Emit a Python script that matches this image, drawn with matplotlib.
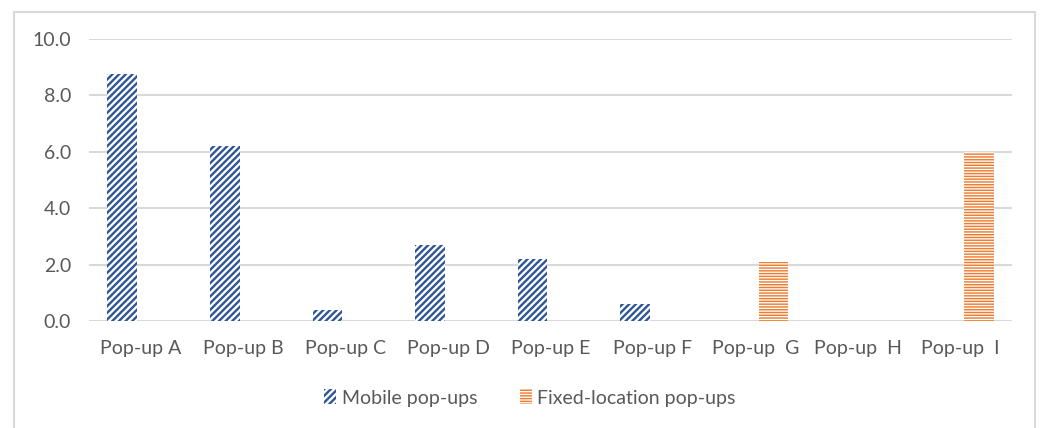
import matplotlib
matplotlib.use("Agg")
import matplotlib.pyplot as plt
import numpy as np
from matplotlib.patches import Rectangle, Patch

categories = ["Pop-up A", "Pop-up B", "Pop-up C", "Pop-up D", "Pop-up E",
              "Pop-up F", "Pop-up  G", "Pop-up  H", "Pop-up  I"]
mobile = [8.75, 6.2, 0.4, 2.7, 2.2, 0.6, 0, 0, 0]
fixed = [0, 0, 0, 0, 0, 0, 2.1, 0, 6.0]
series_names = ["Mobile pop-ups", "Fixed-location pop-ups"]
yticks = [0, 2, 4, 6, 8, 10]

plt.rcParams['font.family'] = ['Lato', 'DejaVu Sans']

W, H = 1044, 428
fig = plt.figure(figsize=(W / 100, H / 100), dpi=100)

# outer chart border
fig.patches.append(Rectangle((14 / W, -0.1), (1035 - 14) / W, 1 - 12 / H + 0.1,
                             transform=fig.transFigure, fill=False,
                             edgecolor="#D9D9D9", linewidth=1.5))

ax = fig.add_axes([89 / W, 1 - 321 / H, (1012 - 89) / W, (321 - 39) / H])
x = np.arange(len(categories))
bw = 0.29
off = 0.175
blue = "#2F5597"
orange = "#ED7D31"
hatch_m = "/////"
hatch_f = "------"
lw_m, lw_f = 1.7, 1.05

mb = ax.bar(x - off, mobile, bw, facecolor="white", edgecolor=blue, hatch=hatch_m,
            linewidth=0, zorder=3)
fb = ax.bar(x + off, fixed, bw, facecolor="white", edgecolor=orange, hatch=hatch_f,
            linewidth=0, zorder=3)
for p in mb:
    p._hatch_linewidth = lw_m
for p in fb:
    p._hatch_linewidth = lw_f

fs = 14
ax.set_xlim(-0.5, len(categories) - 0.5)
ax.set_ylim(0, 10)
ax.set_yticks(yticks)
ax.set_yticklabels([f"{v:.1f}" for v in yticks])
ax.set_xticks(x)
ax.set_xticklabels(categories)
ax.tick_params(axis="both", length=0, colors="#595959", labelsize=fs)
ax.tick_params(axis="y", pad=13)
ax.tick_params(axis="x", pad=14)
ax.grid(axis="y", color="#D9D9D9", linewidth=1.5, zorder=0)
for s in ax.spines.values():
    s.set_visible(False)

hm = Patch(facecolor="white", edgecolor=blue, hatch=hatch_m, linewidth=0)
hf = Patch(facecolor="white", edgecolor=orange, hatch=hatch_f, linewidth=0)
leg = fig.legend([hm, hf], series_names, loc="center", bbox_to_anchor=(530 / W, 1 - 398 / H),
                 ncol=2, frameon=False, fontsize=fs, labelcolor="#595959",
                 handlelength=0.6, handleheight=0.8, handletextpad=0.3, columnspacing=2.2)
for p, lw in zip(leg.get_patches(), [lw_m, lw_f]):
    p._hatch_linewidth = lw

fig.savefig("out.png", dpi=100)
